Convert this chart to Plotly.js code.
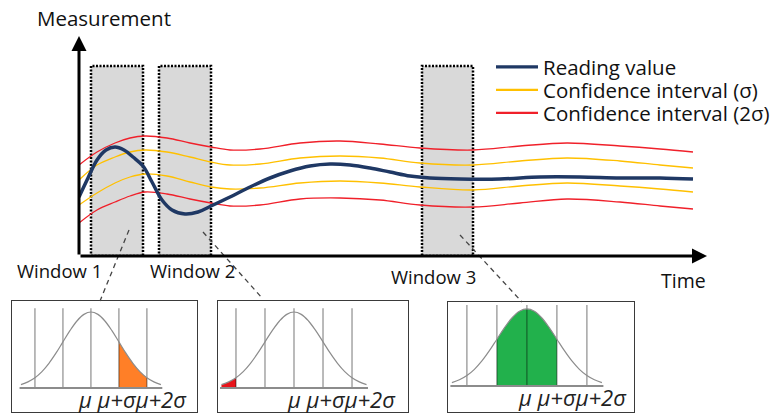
<!DOCTYPE html>
<html><head><meta charset="utf-8">
<script src="https://cdn.plot.ly/plotly-3.0.1.min.js"></script>
<style>html,body{margin:0;padding:0;background:#fff}#chart{width:776px;height:414px}</style>
</head><body><div id="chart"></div>
<script>
// ---------------- data ----------------
const timeReading = [0,0.9,1.8,2.7,3.6,4.5,5.4,6.4,7.3,8.3,9.3,10.6,11.9,13.2,15.1,17.1,19.1,21.1,23.1,25.1,27.1,29.1,31.1,33.1,35.1,38.1,42.1,46.1,50.1,54.1,58.1,61.4];
const readingValue = [5.9,7.8,9.6,10.6,10.9,10.6,9.9,9.0,7.4,5.6,4.6,4.2,4.4,5.0,5.9,6.9,7.8,8.5,9.0,9.2,9.1,8.8,8.4,8.0,7.8,7.7,7.7,7.9,7.9,7.8,7.8,7.7];
const timeBand = [0,1.8,3.6,5.1,6.6,8.8,11.1,13.2,15.1,18.1,22.1,26.1,30.1,34.1,39.4,44.1,48.8,54.1,58.1,61.4];
const sigmaUpper = [7.6,9.1,9.9,10.4,10.6,10.4,9.9,9.4,9.1,9.2,9.8,10.0,9.8,9.3,9.1,9.5,9.8,9.5,9.1,8.8];
const sigmaLower = [5.1,6.3,7.3,7.9,8.2,8.0,7.4,6.9,6.7,6.8,7.3,7.5,7.3,6.9,6.6,7.0,7.3,7.0,6.7,6.4];
const twoSigmaUpper = [9.1,10.4,11.3,11.8,12.0,11.8,11.3,10.9,10.6,10.7,11.3,11.5,11.2,10.8,10.6,11.0,11.3,11.0,10.7,10.4];
const twoSigmaLower = [3.3,4.6,5.4,6.0,6.4,6.2,5.7,5.3,5.0,5.1,5.7,5.8,5.6,5.1,4.9,5.3,5.7,5.4,5.0,4.7];
const seriesNames = ['Reading value','Confidence interval (σ)','Confidence interval (2σ)'];

const windowLabels = ['Window 1','Window 2','Window 3'];
const windowStart = [1.2, 8.0, 34.3];
const windowEnd = [6.4, 13.2, 39.4];
const windowTop = 19.0;

// bell curve of each window (x in σ units, relative height)
const bellX = [-2.5,-2.25,-2,-1.75,-1.5,-1.25,-1,-0.75,-0.5,-0.25,0,0.25,0.5,0.75,1,1.25,1.5,1.75,2,2.25,2.5];
const bellHeight = [0.044,0.08,0.135,0.216,0.325,0.458,0.607,0.755,0.882,0.969,1,0.969,0.882,0.755,0.607,0.458,0.325,0.216,0.135,0.08,0.044];
const sigmaTicks = [-2,-1,0,1,2];
const sigmaTickLabel = 'μ μ+σμ+2σ';
const shadeFrom = [1, -2.5, -1];
const shadeTo = [2, -2, 1];

// ---------------- styling / layout helpers ----------------
const W = 776, H = 414;
const px = p => p / W, py = p => 1 - p / H;
const FONT = '"Open Sans", sans-serif';
const C_BLUE = '#1f3864', C_YEL = '#ffc000', C_RED = '#f0202a';
const shadeColors = ['#ff7f27', '#e8141b', '#22b14c'];

const traces = [];
const bandLine = (y, color, name) => ({x: timeBand, y, type:'scatter', mode:'lines', xaxis:'x', yaxis:'y',
  line:{color, width:1.3, shape:'spline', smoothing:1}, showlegend:false, hoverinfo:'skip', name});
traces.push(bandLine(twoSigmaUpper, C_RED, seriesNames[2]));
traces.push(bandLine(twoSigmaLower, C_RED, seriesNames[2]));
traces.push(bandLine(sigmaUpper, C_YEL, seriesNames[1]));
traces.push(bandLine(sigmaLower, C_YEL, seriesNames[1]));
traces.push({x: timeReading, y: readingValue, type:'scatter', mode:'lines', xaxis:'x', yaxis:'y',
  line:{color:C_BLUE, width:3.5, shape:'spline', smoothing:1}, showlegend:false, name:seriesNames[0]});

const layout = {
  width: W, height: H, margin:{l:0,r:0,t:0,b:0}, paper_bgcolor:'#fff', plot_bgcolor:'rgba(0,0,0,0)',
  showlegend:true,
  xaxis:{domain:[px(79),px(707)], range:[0,62.8], visible:false, fixedrange:true},
  yaxis:{domain:[py(256),py(36)], range:[0,22], visible:false, fixedrange:true, anchor:'x'},
  shapes:[], annotations:[]
};

// legend entries: one legend per row so the row spacing matches the picture
const legendRowY = [67, 90, 113];
const legendKeys = ['legend','legend2','legend3'];
[[C_BLUE,3.2],[C_YEL,2.4],[C_RED,2.4]].forEach((s,i)=>{
  traces.push({x:[null], y:[null], type:'scatter', mode:'lines', xaxis:'x', yaxis:'y',
    line:{color:s[0], width:s[1]}, name:seriesNames[i], showlegend:true, legend:legendKeys[i]});
  layout[legendKeys[i]] = {x:px(491), y:py(legendRowY[i]), xanchor:'left', yanchor:'middle', bgcolor:'rgba(0,0,0,0)',
    font:{family:FONT, size:20.5, color:'#111'}, itemwidth:42, borderwidth:0};
});

// insets
const insetBox = [ // [left, right, top, bottom] in px
  [12,197,301,412],[218,408,301,412],[448,634,302,412]];
const insetXRange = [[-2.82,3.79],[-2.62,3.93],[-2.63,3.57]];
const insetYRange = [[-0.316,1.145],[-0.316,1.145],[-0.338,1.09]];
const insetLabelPos = [[76,399],[285,399],[516,397]];

for (let i=0;i<3;i++){
  const xa = 'x'+(i+2), ya = 'y'+(i+2);
  const b = insetBox[i];
  layout['xaxis'+(i+2)] = {domain:[px(b[0]),px(b[1])], range:insetXRange[i], anchor:ya,
    showline:true, mirror:true, linecolor:'#3a3a3a', linewidth:1.3, showgrid:false, zeroline:false,
    showticklabels:false, ticks:'', fixedrange:true};
  layout['yaxis'+(i+2)] = {domain:[py(b[3]),py(b[2])], range:insetYRange[i], anchor:xa,
    showline:true, mirror:true, linecolor:'#3a3a3a', linewidth:1.3, showgrid:false, zeroline:false,
    showticklabels:false, ticks:'', fixedrange:true};
  // shaded probability
  const sx = [], sy = [];
  bellX.forEach((v,k)=>{ if (v>=shadeFrom[i]-1e-9 && v<=shadeTo[i]+1e-9){ sx.push(v); sy.push(bellHeight[k]); }});
  traces.push({x:sx, y:sy, type:'scatter', mode:'lines', xaxis:xa, yaxis:ya, fill:'tozeroy',
    fillcolor:shadeColors[i], line:{width:0, color:shadeColors[i], shape:'spline'}, showlegend:false, hoverinfo:'skip'});
  // sigma lines
  const vx = [], vy = [];
  sigmaTicks.forEach(t=>{ vx.push(t,t,null); vy.push(0,1.05,null); });
  traces.push({x:vx, y:vy, type:'scatter', mode:'lines', xaxis:xa, yaxis:ya,
    line:{color:'rgba(0,0,0,0.45)', width:1.2}, showlegend:false, hoverinfo:'skip'});
  // bell curve
  traces.push({x:bellX, y:bellHeight, type:'scatter', mode:'lines', xaxis:xa, yaxis:ya,
    line:{color:'#8c8c8c', width:1.2, shape:'spline'}, showlegend:false, hoverinfo:'skip'});
  // baseline
  traces.push({x:[bellX[0]-0.05, bellX[bellX.length-1]+0.05], y:[0,0], type:'scatter', mode:'lines', xaxis:xa, yaxis:ya,
    line:{color:'#8c8c8c', width:2}, showlegend:false, hoverinfo:'skip'});
  // label
  layout.annotations.push({text:sigmaTickLabel, xref:'paper', yref:'paper', x:px(insetLabelPos[i][0]), y:py(insetLabelPos[i][1]),
    xanchor:'left', yanchor:'middle', showarrow:false,
    font:{family:'"Open Sans", sans-serif', size:22, color:'#222', style:'italic'}});
  // window box
  layout.shapes.push({type:'rect', xref:'x', yref:'y', x0:windowStart[i], x1:windowEnd[i], y0:0, y1:windowTop,
    fillcolor:'#d9d9d9', line:{color:'#000', width:2.5, dash:'2px,1.5px'}, layer:'below'});
}

// axes with arrows
layout.annotations.push({x:62.8, y:0, xref:'x', yref:'y', ax:0, ay:0, axref:'x', ayref:'y', text:'',
  showarrow:true, arrowhead:2, arrowsize:1, arrowwidth:3, arrowcolor:'#000'});
layout.annotations.push({x:0, y:22, xref:'x', yref:'y', ax:0, ay:0, axref:'x', ayref:'y', text:'',
  showarrow:true, arrowhead:2, arrowsize:1, arrowwidth:3, arrowcolor:'#000'});

// text labels
const txt = (t, x, y, size) => layout.annotations.push({text:t, xref:'paper', yref:'paper', x:px(x), y:py(y),
  xanchor:'left', yanchor:'middle', showarrow:false, font:{family:FONT, size, color:'#111'}});
txt('Measurement', 35, 18, 20.5);
txt('Time', 659, 280, 19.5);
txt(windowLabels[0], 15, 270, 18.5);
txt(windowLabels[1], 148, 270, 18.5);
txt(windowLabels[2], 389, 276, 18.5);

// dashed connectors from each window to its inset
const connectors = [[129,230,100,301],[203,232,263,299],[460,235,522,302]];
connectors.forEach(c => layout.shapes.push({type:'line', xref:'paper', yref:'paper',
  x0:px(c[0]), y0:py(c[1]), x1:px(c[2]), y1:py(c[3]), line:{color:'#444', width:1.3, dash:'5px,4px'}}));

Plotly.newPlot('chart', traces, layout, {staticPlot:true, displayModeBar:false});
</script></body></html>
